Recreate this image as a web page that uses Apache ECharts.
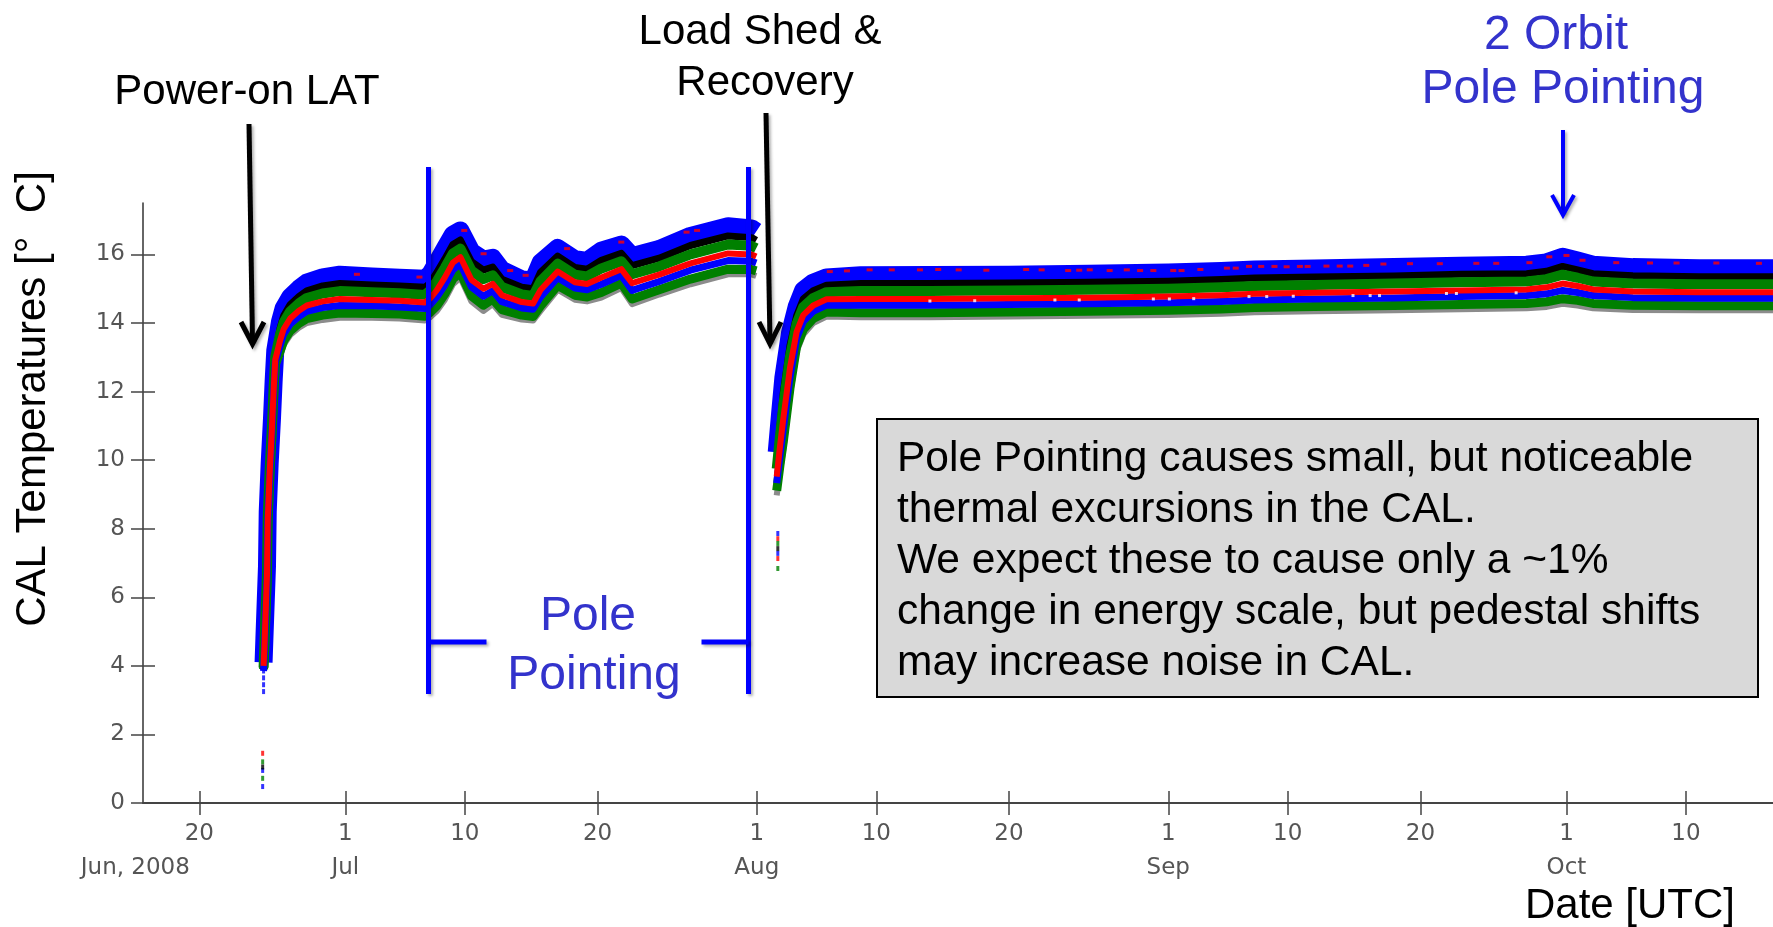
<!DOCTYPE html>
<html>
<head>
<meta charset="utf-8">
<title>CAL Temperatures</title>
<script src="https://cdn.jsdelivr.net/npm/echarts@6/dist/echarts.min.js"></script>
<style>
  html, body { margin: 0; padding: 0; background: #fff; }
  #chart { width: 1773px; height: 927px; }
</style>
</head>
<body>
<div id="chart"></div>
<script>
// CAL temperatures, one band per sensor group
var times = [
  '2008-06-24 20:10', '2008-06-24 21:40', '2008-06-25 02:20', '2008-06-25 03:40',
  '2008-06-25 07:10', '2008-06-25 11:20', '2008-06-25 14:20', '2008-06-25 17:20',
  '2008-06-26 02:00', '2008-06-26 08:30', '2008-06-26 20:20', '2008-06-27 12:00',
  '2008-06-28 02:20', '2008-06-29 07:00', '2008-06-30 14:00', '2008-07-03 00:00',
  '2008-07-05 02:00', '2008-07-07 00:00', '2008-07-07 09:30', '2008-07-07 21:30',
  '2008-07-08 12:00', '2008-07-09 02:30', '2008-07-09 16:00', '2008-07-10 12:00',
  '2008-07-11 09:30', '2008-07-12 02:30', '2008-07-12 19:00', '2008-07-14 07:00',
  '2008-07-15 03:30', '2008-07-15 17:00', '2008-07-17 00:00', '2008-07-18 07:00',
  '2008-07-19 05:00', '2008-07-20 07:00', '2008-07-21 19:00', '2008-07-22 14:30',
  '2008-07-24 15:30', '2008-07-27 00:00', '2008-07-29 20:00', '2008-07-31 14:30',
  '2008-07-31 23:00', '2008-08-01 12:00', '2008-08-02 12:00', '2008-08-02 18:00',
  '2008-08-03 00:00', '2008-08-03 12:00', '2008-08-04 00:00', '2008-08-04 12:00',
  '2008-08-05 06:00', '2008-08-06 06:00', '2008-08-08 20:00', '2008-08-14 00:00',
  '2008-08-20 00:00', '2008-08-26 00:00', '2008-09-01 00:00', '2008-09-05 00:00',
  '2008-09-07 12:00', '2008-09-12 00:00', '2008-09-18 00:00', '2008-09-23 00:00',
  '2008-09-28 00:00', '2008-09-29 12:00', '2008-09-30 17:00', '2008-10-01 20:00',
  '2008-10-03 00:00', '2008-10-06 00:00', '2008-10-11 00:00', '2008-10-16 14:00'
];

var blueHigh = [
  4.1, 4.8, 6.9, 8.5, 9.9, 11.2, 12.3, 13.2, 14.05, 14.43, 14.76, 15.0,
  15.18, 15.33, 15.41, 15.36, 15.32, 15.29, 15.43, 15.76, 16.18, 16.58, 16.7, 16.08,
  15.85, 15.9, 15.55, 15.27, 15.24, 15.76, 16.19, 15.86, 15.81, 16.11, 16.29, 15.95,
  16.16, 16.54, 16.82, 16.76, 16.67, null, 10.23, 11.34, 12.4, 13.71, 14.47, 14.96,
  15.18, 15.33, 15.39, 15.4, 15.41, 15.44, 15.47, 15.52, 15.56, 15.59, 15.63, 15.67,
  15.7, 15.77, 15.93, 15.82, 15.7, 15.63, 15.6, 15.6
];
var blackBand = [
  3.9, 4.7, 6.8, 8.4, 9.8, 11.1, 12.2, 13.1, 13.85, 14.21, 14.54, 14.77,
  14.94, 15.08, 15.15, 15.11, 15.08, 15.04, 15.17, 15.48, 15.87, 16.29, 16.42, 15.79,
  15.54, 15.63, 15.28, 15.04, 15.0, 15.48, 15.95, 15.62, 15.57, 15.83, 16.03, 15.67,
  15.89, 16.26, 16.54, 16.49, 16.41, null, 9.97, 11.01, 11.98, 13.34, 14.21, 14.7,
  14.94, 15.1, 15.15, 15.15, 15.17, 15.19, 15.22, 15.27, 15.31, 15.34, 15.37, 15.42,
  15.44, 15.51, 15.65, 15.55, 15.44, 15.38, 15.35, 15.35
];
var greenHigh = [
  3.95, 4.62, 6.72, 8.32, 9.72, 11.02, 12.12, 13.02, 13.67, 14.02, 14.34, 14.57,
  14.73, 14.86, 14.93, 14.9, 14.87, 14.82, 14.95, 15.22, 15.61, 16.03, 16.17, 15.53,
  15.28, 15.39, 15.05, 14.83, 14.79, 15.22, 15.73, 15.41, 15.36, 15.59, 15.8, 15.42,
  15.65, 16.0, 16.29, 16.25, 16.18, null, 9.75, 10.71, 11.6, 13.02, 13.98, 14.47,
  14.73, 14.9, 14.93, 14.93, 14.95, 14.97, 15.0, 15.04, 15.08, 15.11, 15.15, 15.19,
  15.21, 15.28, 15.41, 15.32, 15.21, 15.15, 15.13, 15.13
];
var redBand = [
  4.0, 4.53, 6.63, 8.23, 9.63, 10.93, 12.03, 12.93, 13.49, 13.82, 14.13, 14.36,
  14.51, 14.63, 14.7, 14.67, 14.65, 14.6, 14.72, 14.96, 15.33, 15.76, 15.92, 15.26,
  15.0, 15.14, 14.81, 14.61, 14.57, 14.96, 15.5, 15.19, 15.14, 15.33, 15.57, 15.16,
  15.41, 15.74, 16.03, 16.0, 15.94, null, 9.52, 10.41, 11.22, 12.69, 13.74, 14.23,
  14.51, 14.69, 14.7, 14.7, 14.72, 14.74, 14.77, 14.81, 14.85, 14.88, 14.92, 14.95,
  14.98, 15.04, 15.15, 15.08, 14.98, 14.92, 14.9, 14.9
];
var blueLow = [
  3.85, 4.46, 6.56, 8.16, 9.56, 10.86, 11.96, 12.86, 13.34, 13.67, 13.97, 14.19,
  14.34, 14.45, 14.51, 14.5, 14.47, 14.42, 14.53, 14.76, 15.11, 15.55, 15.72, 15.05,
  14.78, 14.94, 14.62, 14.44, 14.4, 14.76, 15.32, 15.02, 14.97, 15.13, 15.39, 14.95,
  15.21, 15.54, 15.82, 15.8, 15.75, null, 9.33, 10.17, 10.92, 12.42, 13.55, 14.04,
  14.34, 14.52, 14.52, 14.52, 14.54, 14.56, 14.59, 14.63, 14.67, 14.7, 14.73, 14.77,
  14.8, 14.85, 14.95, 14.89, 14.8, 14.74, 14.72, 14.72
];
var greenLow = [
  3.9, 4.38, 6.48, 8.08, 9.48, 10.78, 11.88, 12.78, 13.17, 13.48, 13.77, 13.99,
  14.13, 14.23, 14.29, 14.28, 14.26, 14.2, 14.31, 14.5, 14.85, 15.29, 15.47, 14.79,
  14.52, 14.7, 14.39, 14.23, 14.19, 14.5, 15.1, 14.81, 14.76, 14.89, 15.16, 14.7,
  14.97, 15.28, 15.57, 15.56, 15.52, null, 9.11, 9.87, 10.55, 12.1, 13.32, 13.81,
  14.13, 14.32, 14.3, 14.3, 14.32, 14.34, 14.37, 14.41, 14.45, 14.48, 14.51, 14.54,
  14.57, 14.62, 14.71, 14.66, 14.57, 14.52, 14.5, 14.5
];
var greyBand = [
  3.9, 4.33, 6.43, 8.03, 9.43, 10.73, 11.83, 12.73, 13.06, 13.36, 13.65, 13.86,
  14.0, 14.09, 14.15, 14.15, 14.13, 14.07, 14.17, 14.35, 14.68, 15.13, 15.32, 14.63,
  14.35, 14.55, 14.24, 14.1, 14.07, 14.35, 14.97, 14.68, 14.63, 14.74, 15.02, 14.55,
  14.83, 15.13, 15.42, 15.42, 15.37, null, 8.97, 9.69, 10.32, 11.9, 13.17, 13.66,
  14.0, 14.19, 14.17, 14.17, 14.19, 14.21, 14.23, 14.27, 14.31, 14.34, 14.37, 14.4,
  14.43, 14.47, 14.56, 14.51, 14.43, 14.38, 14.37, 14.37
];

// isolated readings just after power-on and after the load shed
var dotsBlue = [
  ['2008-06-24 18:30', 0.95], ['2008-06-24 18:30', 0.48],
  ['2008-06-24 20:10', 3.25], ['2008-06-24 20:10', 3.45], ['2008-06-24 20:10', 3.65], ['2008-06-24 20:10', 3.85],
  ['2008-08-02 14:00', 7.86], ['2008-08-02 14:00', 7.28]
];
var dotsRed = [['2008-06-24 18:30', 1.45], ['2008-08-02 14:00', 7.71], ['2008-08-02 14:00', 7.13]];
var dotsGreen = [['2008-06-24 18:30', 1.2], ['2008-06-24 18:30', 0.72], ['2008-08-02 14:00', 7.57], ['2008-08-02 14:00', 6.84]];
var dotsBlack = [['2008-06-24 18:30', 1.05], ['2008-08-02 14:00', 7.42]];

// stray red readings inside the top blue band
var redSpecks = [
  ['2008-07-01 21:00', 15.42], ['2008-07-06 14:00', 15.34], ['2008-07-09 23:00', 16.7],
  ['2008-07-11 10:00', 16.02], ['2008-07-13 10:00', 15.53], ['2008-07-14 14:00', 15.39],
  ['2008-07-17 17:00', 16.17], ['2008-07-21 19:00', 16.36], ['2008-07-26 17:00', 16.65],
  ['2008-07-27 12:00', 16.7], ['2008-08-06 12:00', 15.5], ['2008-08-07 19:00', 15.52],
  ['2008-08-09 12:00', 15.55], ['2008-08-11 04:00', 15.55], ['2008-08-13 07:00', 15.55],
  ['2008-08-14 16:00', 15.56], ['2008-08-16 05:00', 15.55], ['2008-08-18 07:00', 15.54],
  ['2008-08-21 07:00', 15.56], ['2008-08-22 11:00', 15.55], ['2008-08-24 11:00', 15.53],
  ['2008-08-25 07:00', 15.54], ['2008-08-26 02:00', 15.55], ['2008-08-27 14:00', 15.53],
  ['2008-08-28 21:00', 15.55], ['2008-08-29 21:00', 15.53], ['2008-08-30 21:00', 15.53],
  ['2008-09-01 09:00', 15.53], ['2008-09-02 00:00', 15.53], ['2008-09-03 10:00', 15.56],
  ['2008-09-05 10:00', 15.6], ['2008-09-06 02:00', 15.6], ['2008-09-07 02:00', 15.65],
  ['2008-09-08 00:00', 15.65], ['2008-09-09 00:00', 15.65], ['2008-09-09 22:00', 15.64],
  ['2008-09-10 22:00', 15.65], ['2008-09-11 12:00', 15.65], ['2008-09-12 22:00', 15.66],
  ['2008-09-13 22:00', 15.66], ['2008-09-14 17:00', 15.66], ['2008-09-15 22:00', 15.68],
  ['2008-09-17 05:00', 15.72], ['2008-09-19 05:00', 15.73], ['2008-09-21 11:00', 15.73],
  ['2008-09-24 05:00', 15.74], ['2008-09-25 17:00', 15.74], ['2008-09-28 05:00', 15.76],
  ['2008-09-29 17:00', 15.93], ['2008-10-01 00:00', 15.97], ['2008-10-02 05:00', 15.83],
  ['2008-10-04 18:00', 15.76], ['2008-10-07 07:00', 15.75], ['2008-10-09 07:00', 15.75],
  ['2008-10-12 07:00', 15.75], ['2008-10-15 12:00', 15.74]
];
// small gaps (white) along the red band
var whiteSpecks = [
  ['2008-08-14 01:00', 14.64], ['2008-08-17 10:00', 14.65], ['2008-08-23 11:00', 14.67],
  ['2008-08-25 07:00', 14.67], ['2008-08-30 21:00', 14.7], ['2008-09-01 02:00', 14.7],
  ['2008-09-02 22:00', 14.71], ['2008-09-07 02:00', 14.77], ['2008-09-08 10:00', 14.77],
  ['2008-09-10 10:00', 14.78], ['2008-09-14 22:00', 14.8], ['2008-09-16 05:00', 14.8],
  ['2008-09-16 22:00', 14.8], ['2008-09-21 23:00', 14.86], ['2008-09-22 17:00', 14.86],
  ['2008-09-27 05:00', 14.88]
];

// axis ticks
var xTickDates = ['2008-06-20', '2008-07-01', '2008-07-10', '2008-07-20', '2008-08-01', '2008-08-10',
  '2008-08-20', '2008-09-01', '2008-09-10', '2008-09-20', '2008-10-01', '2008-10-10'];
var xTickLabels = ['20\nJun, 2008', '1\nJul', '10', '20', '1\nAug', '10',
  '20', '1\nSep', '10', '20', '1\nOct', '10'];
var yTicks = [0, 2, 4, 6, 8, 10, 12, 14, 16];
var xRange = ['2008-06-15 18:09', '2008-10-16 13:26'];
var yRange = [0, 17.5];

(function () {
  function toTime(s) {
    var p = s.split(/[- :]/);
    return new Date(+p[0], p[1] - 1, +p[2], +(p[3] || 0), +(p[4] || 0)).getTime();
  }
  function band(values) {
    return times.map(function (t, i) {
      return [toTime(t), values[i] === null ? '-' : values[i]];
    });
  }
  function dots(list) {
    return list.map(function (d) { return [toTime(d[0]), d[1]]; });
  }
  function lineSeries(values, color, width, z) {
    return {
      type: 'line',
      data: band(values),
      symbol: 'none',
      silent: true,
      z: z,
      lineStyle: { color: color, width: width, join: 'round', cap: 'butt' }
    };
  }
  function dotSeries(list, color, size) {
    return {
      type: 'scatter',
      data: dots(list),
      symbol: 'rect',
      symbolSize: size || [3, 5],
      silent: true,
      z: 6,
      itemStyle: { color: color }
    };
  }

  var tickTimes = xTickDates.map(toTime);
  var labelOf = {};
  tickTimes.forEach(function (t, i) {
    var parts = xTickLabels[i].split('\n');
    // the year label hangs to the left of its tick
    labelOf[t] = i === 0 && parts[1] ? parts[0] + '\n{first|' + parts[1] + '}' : xTickLabels[i];
  });

  var tickFont = 'DejaVu Sans';
  var annoFont = '"Liberation Sans", Arial, sans-serif';
  var blueText = '#3333cc';
  var shadow = { shadowBlur: 3, shadowOffsetX: 2, shadowOffsetY: 2, shadowColor: 'rgba(0,0,0,0.3)' };

  function text(x, y, str, size, color, extra) {
    var el = {
      type: 'text', x: x, y: y, z: 100,
      style: {
        text: str, font: size + 'px ' + annoFont, fill: color,
        align: 'center', verticalAlign: 'middle'
      }
    };
    if (extra) { for (var k in extra) { el[k] = extra[k]; } }
    return el;
  }
  function poly(points, color, width) {
    return {
      type: 'polyline', z: 100,
      shape: { points: points },
      style: Object.assign({ stroke: color, lineWidth: width, fill: null }, shadow)
    };
  }

  var myChart = echarts.init(document.getElementById('chart'));
  var option = {
    animation: false,
    backgroundColor: '#fff',
    grid: { left: 143, right: 0, top: 203, bottom: 124 },
    xAxis: [{
      type: 'value',
      min: toTime(xRange[0]),
      max: toTime(xRange[1]),
      axisLine: { lineStyle: { color: '#444', width: 2 } },
      axisTick: { customValues: tickTimes, length: 12, lineStyle: { color: '#444', width: 1.5 } },
      axisLabel: {
        customValues: tickTimes,
        formatter: function (v) { return labelOf[v] || ''; },
        color: '#555', fontFamily: tickFont, fontSize: 23, lineHeight: 34, margin: 14,
        rich: {
          first: { color: '#555', fontFamily: tickFont, fontSize: 23, lineHeight: 34, padding: [0, 128, 0, 0] }
        }
      },
      splitLine: { show: false }
    }, {
      type: 'value',
      position: 'bottom',
      min: toTime(xRange[0]),
      max: toTime(xRange[1]),
      axisLine: { show: false },
      axisTick: { inside: true, customValues: tickTimes, length: 12, lineStyle: { color: '#444', width: 1.5 } },
      axisLabel: { show: false },
      splitLine: { show: false }
    }],
    yAxis: [{
      type: 'value',
      min: yRange[0],
      max: yRange[1],
      axisLine: { show: true, lineStyle: { color: '#333', width: 1.5 } },
      axisTick: { show: true, customValues: yTicks, length: 12, lineStyle: { color: '#444', width: 1.5 } },
      axisLabel: { customValues: yTicks, color: '#555', fontFamily: tickFont, fontSize: 23, margin: 18 },
      splitLine: { show: false }
    }, {
      type: 'value',
      position: 'left',
      min: yRange[0],
      max: yRange[1],
      axisLine: { show: false },
      axisTick: { show: true, inside: true, customValues: yTicks, length: 12, lineStyle: { color: '#444', width: 1.5 } },
      axisLabel: { show: false },
      splitLine: { show: false }
    }],
    series: [
      lineSeries(blueHigh, '#0000ff', 18, 2),
      lineSeries(greyBand, '#8c8c8c', 6, 2),
      lineSeries(greenLow, '#008000', 9, 3),
      lineSeries(blackBand, '#000000', 7, 3),
      lineSeries(greenHigh, '#008000', 10, 4),
      lineSeries(blueLow, '#0000ff', 7, 4),
      lineSeries(redBand, '#ff0000', 6, 5),
      dotSeries(dotsBlue, '#0000ff'),
      dotSeries(dotsRed, '#ff0000'),
      dotSeries(dotsGreen, '#008000'),
      dotSeries(dotsBlack, '#000000'),
      dotSeries(redSpecks, '#ff0000', [6, 3]),
      dotSeries(whiteSpecks, '#ffffff', [3, 3])
    ],
    graphic: [
      // axis titles
      text(33, 399, 'CAL Temperatures [°  C]', 42, '#000', { rotation: Math.PI / 2 }),
      text(1630, 906, 'Date [UTC]', 42, '#000'),
      // annotations
      text(247, 92, 'Power-on LAT', 42, '#000'),
      text(760, 32, 'Load Shed &', 42, '#000'),
      text(765, 83, 'Recovery', 42, '#000'),
      text(1556, 36, '2 Orbit', 48, blueText),
      text(1563, 90, 'Pole Pointing', 48, blueText),
      text(588, 617, 'Pole', 48, blueText),
      text(594, 676, 'Pointing', 48, blueText),
      poly([[249, 124], [252.5, 342]], '#000', 5),
      poly([[241, 322], [252.5, 344], [264, 322]], '#000', 5),
      poly([[766, 113], [770, 342]], '#000', 5),
      poly([[759, 322], [770, 344], [781, 322]], '#000', 5),
      poly([[1563, 130], [1563, 213]], '#0000ff', 4),
      poly([[1552, 195], [1563, 215], [1574, 195]], '#0000ff', 4),
      // pole pointing bracket
      poly([[428.5, 167], [428.5, 694]], '#0000ff', 5),
      poly([[748.5, 167], [748.5, 694]], '#0000ff', 5),
      poly([[428.5, 642], [486.5, 642]], '#0000ff', 5),
      poly([[701.5, 642], [748.5, 642]], '#0000ff', 5),
      // note box
      {
        type: 'rect', z: 100,
        shape: { x: 877, y: 419, width: 881, height: 278 },
        style: { fill: '#d9d9d9', stroke: '#000', lineWidth: 2 }
      },
      {
        type: 'text', x: 897, y: 434, z: 101,
        style: {
          text: 'Pole Pointing causes small, but noticeable\nthermal excursions in the CAL.\nWe expect these to cause only a ~1%\nchange in energy scale, but pedestal shifts\nmay increase noise in CAL.',
          font: '42.5px ' + annoFont, fill: '#000', lineHeight: 51,
          align: 'left', verticalAlign: 'top'
        }
      }
    ]
  };

  myChart.setOption(option);
  window.addEventListener('resize', function () {
    myChart.resize();
  });
})();
</script>
</body>
</html>
